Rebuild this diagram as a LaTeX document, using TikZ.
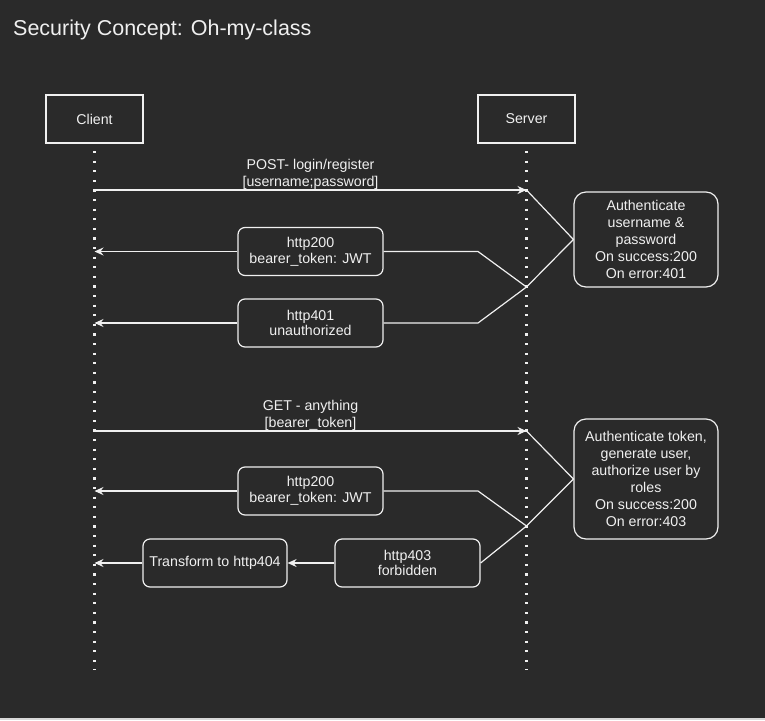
\documentclass[tikz,border=0pt]{standalone}
\usepackage{fontspec}
\setmainfont{Liberation Sans}
\usetikzlibrary{arrows.meta}
\definecolor{bgdark}{HTML}{2A2A2A}
\definecolor{fg}{HTML}{F0F0F0}
\definecolor{edge}{HTML}{D8D8D8}
\tikzset{
  actor/.style={rectangle, draw=fg, line width=1.2pt, minimum width=97pt, minimum height=48pt,
    text=fg, font=\fontsize{14.2}{16}\selectfont},
  msg/.style={rectangle, rounded corners=7pt, draw=fg, line width=1.2pt, minimum width=145pt,
    minimum height=48pt, align=center, text=fg, inner sep=2pt, font=\fontsize{14.2}{15.7}\selectfont},
  authbox/.style={msg, rounded corners=12pt, minimum width=144pt, font=\fontsize{14.2}{17}\selectfont},
  lifeline/.style={fg, line width=2.2pt, dash pattern=on 2.2pt off 7.4pt},
  arrow/.style={-{Stealth[length=9pt, width=8pt, inset=3pt]}, line width=1.2pt, fg},
  link/.style={line width=1.2pt, fg},
  lbl/.style={align=center, text=fg, inner sep=0pt, anchor=south, font=\fontsize{14.2}{16.7}\selectfont},
}
\begin{document}
\begin{tikzpicture}[x=1pt, y=-1pt]
\fill[bgdark] (0,0) rectangle (765,718);
\fill[edge] (0,718) rectangle (765,720);
\useasboundingbox (0,0) rectangle (765,720);

\node[anchor=base west, inner sep=0pt, text=fg, font=\fontsize{21.5}{24}\selectfont] (title) at (13,35.7) {Security Concept: Oh-my-class};

% lifelines
\node[actor] (client) at (94.5,119) {Client};
\node[actor] (server) at (526.5,119) {Server};
\coordinate (ctop) at (94.5,151);
\coordinate (cbot) at (94.5,670);
\coordinate (stop) at (526.5,151);
\coordinate (sbot) at (526.5,670);
\draw[lifeline] (ctop) -- (cbot);
\draw[lifeline] (stop) -- (sbot);

% login
\coordinate (c1) at (94.5,190);
\coordinate (s1) at (526.5,190);
\coordinate (j1) at (526.5,287);
\draw[arrow] (c1) -- node[lbl] {POST- login/register\\{}[username;password]} (s1);
\node[authbox, minimum height=95pt] (auth1) at (646,239.5) {Authenticate\\username \&\\password\\On success:200\\On error:401};
\node[msg] (ok1) at (310.5,251.5) {http200\\bearer\_token: JWT};
\node[msg] (deny1) at (310.5,323) {http401\\unauthorized};
\draw[link] (s1) -- (auth1.west) -- (j1);
\draw[link] (j1) -- ++(-48.5,-35.5) -- (ok1.east);
\draw[link] (j1) -- ++(-48.5,36) -- (deny1.east);
\draw[arrow] (ok1.west) -- (ok1.west -| c1);
\draw[arrow] (deny1.west) -- (deny1.west -| c1);

% request
\coordinate (c2) at (94.5,431);
\coordinate (s2) at (526.5,431);
\coordinate (j2) at (526.5,526);
\draw[arrow] (c2) -- node[lbl] {GET - anything\\{}[bearer\_token]} (s2);
\node[authbox, minimum height=120pt] (auth2) at (646,479) {Authenticate token,\\generate user,\\authorize user by\\roles\\On success:200\\On error:403};
\node[msg] (ok2) at (310.5,491) {http200\\bearer\_token: JWT};
\node[msg] (forbid) at (407.5,563) {http403\\forbidden};
\node[msg, minimum width=144pt] (hide) at (215,563) {Transform to http404};
\draw[link] (s2) -- (auth2.west) -- (j2);
\draw[link] (j2) -- ++(-48.5,-35) -- (ok2.east);
\draw[link] (j2) -- (forbid.east);
\draw[arrow] (ok2.west) -- (ok2.west -| c2);
\draw[arrow] (forbid.west) -- (hide.east);
\draw[arrow] (hide.west) -- (hide.west -| c2);
\end{tikzpicture}
\end{document}
